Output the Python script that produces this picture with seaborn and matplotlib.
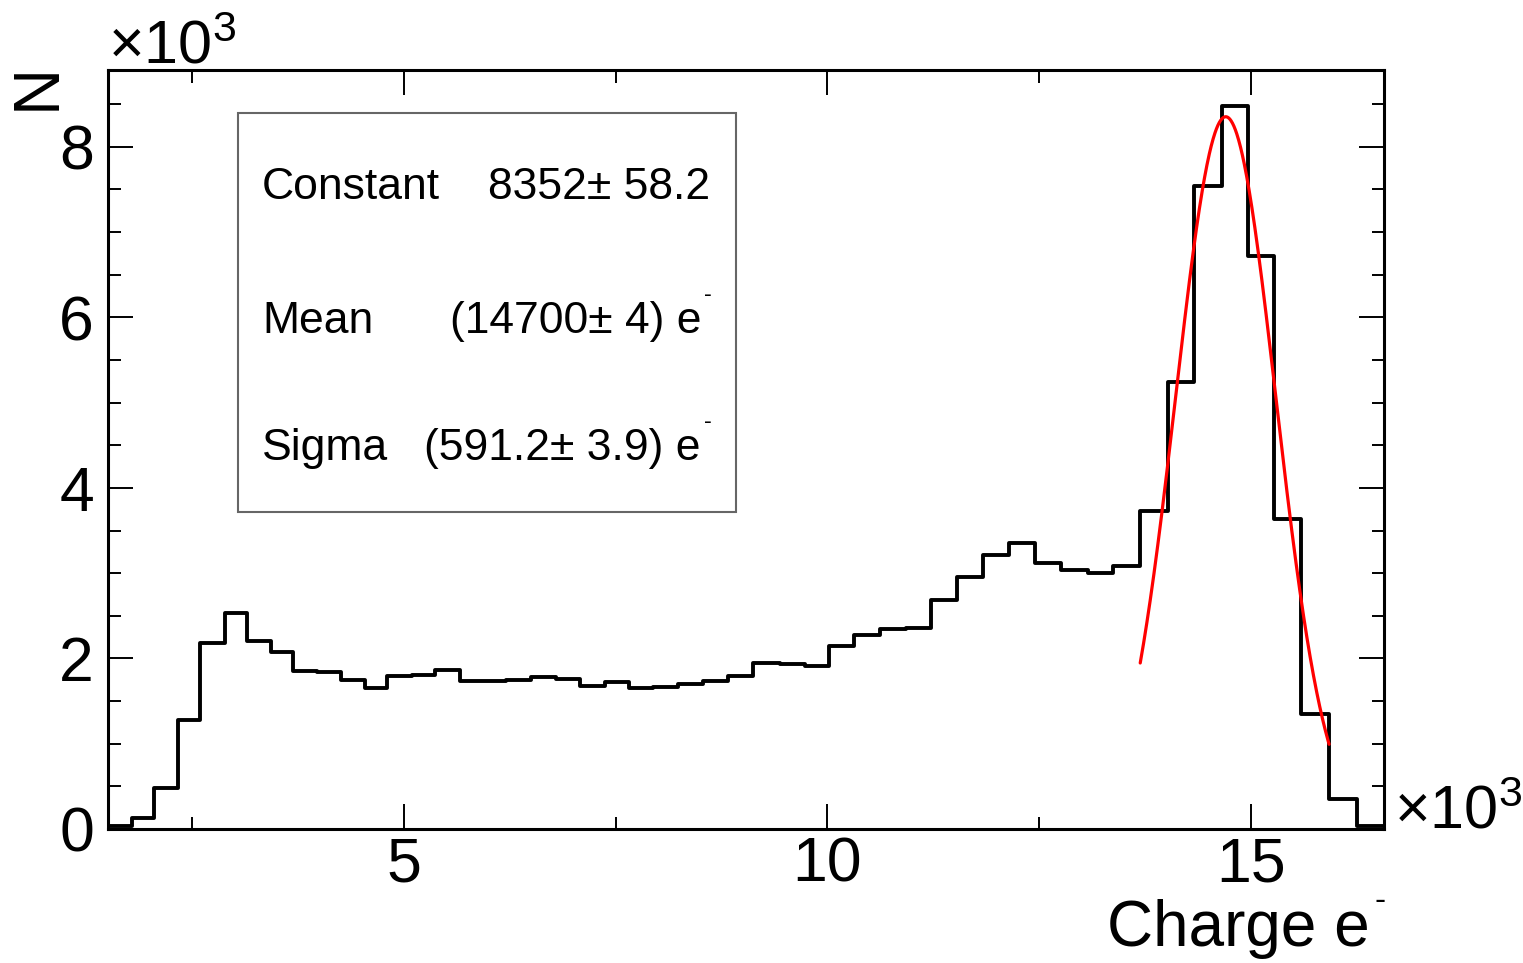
import numpy as np
import pandas as pd
import matplotlib
matplotlib.use("Agg")
import matplotlib.pyplot as plt
import seaborn as sns
from matplotlib.patches import Rectangle
from matplotlib.ticker import FixedLocator

# ---------------- data (charge in units of 10^3 e-) ----------------
bin_edges = [1.509, 1.789, 2.052, 2.338, 2.594, 2.889, 3.145, 3.428, 3.695, 3.970,
             4.254, 4.540, 4.803, 5.091, 5.366, 5.660, 5.935, 6.211, 6.506, 6.801,
             7.075, 7.370, 7.657, 7.940, 8.235, 8.529, 8.824, 9.119, 9.434, 9.729,
             10.015, 10.318, 10.621, 10.928, 11.223, 11.525, 11.831, 12.138, 12.453, 12.756,
             13.070, 13.373, 13.691, 14.013, 14.328, 14.654, 14.968, 15.271, 15.593, 15.920,
             16.246, 16.568]
counts = [30, 130, 480, 1280, 2180, 2530, 2200, 2070, 1850, 1840,
          1750, 1650, 1790, 1800, 1870, 1730, 1740, 1750, 1780, 1760,
          1680, 1720, 1650, 1670, 1700, 1740, 1790, 1950, 1940, 1910,
          2140, 2270, 2350, 2360, 2680, 2960, 3210, 3350, 3120, 3040,
          3000, 3080, 3730, 5240, 7540, 8480, 6720, 3630, 1350, 350,
          40]

fit_constant = 8352.0
fit_mean = 14700.0
fit_sigma = 591.2
fit_range = [13691.0, 15920.0]

stat_names = ["Constant", "Mean", "Sigma"]
stat_values = ["8352\u00b1 58.2", "(14700\u00b1 4) e", "(591.2\u00b1 3.9) e"]
stat_has_unit = [False, True, True]

x_major = [5, 10, 15]
x_minor = [2.5, 7.5, 12.5]
y_major = [0, 2, 4, 6, 8]
y_minor = [0.5 * k for k in range(18)]

# ---------------- style ----------------
sns.set_theme(style="ticks")
plt.rcParams['font.family'] = ['Liberation Sans', 'DejaVu Sans']
plt.rcParams['mathtext.fontset'] = 'custom'
plt.rcParams['mathtext.rm'] = 'Liberation Sans'
plt.rcParams['mathtext.it'] = 'Liberation Sans:italic'
plt.rcParams['mathtext.bf'] = 'Liberation Sans:bold'
for k in ['text.color', 'axes.labelcolor', 'xtick.color', 'ytick.color',
          'xtick.labelcolor', 'ytick.labelcolor', 'axes.edgecolor']:
    plt.rcParams[k] = 'black'

W, H = 1523, 963
fig = plt.figure(figsize=(W / 100, H / 100), dpi=100)
fig.patch.set_facecolor("white")
L, R, T, B = 108, 1384, 70, 829
ax = fig.add_axes([L / W, 1 - B / H, (R - L) / W, (B - T) / H])
ax.set_facecolor("white")

centers = [0.5 * (a + b) for a, b in zip(bin_edges[:-1], bin_edges[1:])]
df = pd.DataFrame({"charge": centers, "N": [c / 1000.0 for c in counts]})

sns.histplot(data=df, x="charge", weights="N", bins=list(bin_edges), element="step",
             fill=False, color="black", linewidth=2.8, ax=ax)

xs = np.linspace(fit_range[0], fit_range[1], 400)
ys = fit_constant * np.exp(-0.5 * ((xs - fit_mean) / fit_sigma) ** 2)
sns.lineplot(x=xs / 1000.0, y=ys / 1000.0, color="red", linewidth=2.3, ax=ax)

ax.set_xlim(bin_edges[0], bin_edges[-1])
ax.set_ylim(0, 8.9)
ax.set_xlabel("")
ax.set_ylabel("")

for s in ax.spines.values():
    s.set_visible(True)
    s.set_linewidth(2.2)
    s.set_color("black")

ax.xaxis.set_major_locator(FixedLocator(x_major))
ax.xaxis.set_minor_locator(FixedLocator(x_minor))
ax.yaxis.set_major_locator(FixedLocator(y_major))
ax.yaxis.set_minor_locator(FixedLocator(y_minor))
ax.set_xticklabels([str(v) for v in x_major])
ax.set_yticklabels([str(v) for v in y_major])
ax.tick_params(which="both", direction="in", top=True, right=True,
               color="black", width=1.4, labelcolor="black")
ax.tick_params(which="major", length=18, labelsize=45)
ax.tick_params(which="minor", length=9)
ax.tick_params(axis="y", which="major", pad=10)
ax.tick_params(axis="x", which="major", pad=5)

# exponent labels
fig.text(108 / W, 1 - 63 / H, "\u00d710$^{3}$", fontsize=44, ha="left", va="baseline")
fig.text(1394 / W, 1 - 828 / H, "\u00d710$^{3}$", fontsize=44, ha="left", va="baseline")

# axis titles
fig.text(1370 / W, 1 - 946 / H, "Charge e", fontsize=46, ha="right", va="baseline")
fig.text(1380 / W, 1 - 901 / H, "-", fontsize=24, ha="center", va="center")
fig.text(38 / W, 1 - 86 / H, "N", fontsize=47, rotation=90, ha="center", va="center")

# stats box
bx0, by0, bx1, by1 = 238, 113, 736, 512
ax.add_patch(Rectangle(((bx0 - L) / (R - L), (B - by1) / (B - T)),
                       (bx1 - bx0) / (R - L), (by1 - by0) / (B - T),
                       transform=ax.transAxes, fill=True, facecolor="white",
                       edgecolor="#666666", linewidth=1.5, zorder=5))
baselines = [199, 333, 460]
for name, val, unit, yb in zip(stat_names, stat_values, stat_has_unit, baselines):
    ax.text((262 - L) / (R - L), (B - yb) / (B - T), name, transform=ax.transAxes,
            fontsize=32, ha="left", va="baseline", zorder=6)
    xr = 701 if unit else 710
    ax.text((xr - L) / (R - L), (B - yb) / (B - T), val, transform=ax.transAxes,
            fontsize=32, ha="right", va="baseline", zorder=6)
    if unit:
        ax.text((708 - L) / (R - L), (B - (yb - 38)) / (B - T), "-", transform=ax.transAxes,
                fontsize=17, ha="center", va="center", zorder=6)

fig.savefig("out.png", dpi=100, facecolor="white")
